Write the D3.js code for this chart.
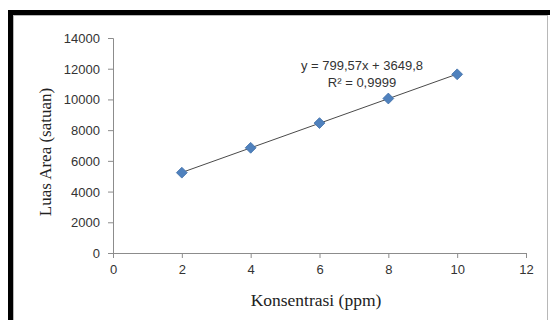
<!DOCTYPE html>
<html>
<head>
<meta charset="utf-8">
<script src="https://cdn.jsdelivr.net/npm/d3@7"></script>
<style>
  body { margin: 0; background: #fff; }
  svg { display: block; }
</style>
</head>
<body>
<div id="chart"></div>
<script>
// data
var konsentrasi = [2, 4, 6, 8, 10];
var luasArea = [5230, 6850, 8460, 10060, 11636];
var xTicks = [0, 2, 4, 6, 8, 10, 12];
var yTicks = [0, 2000, 4000, 6000, 8000, 10000, 12000, 14000];
var eqText = 'y = 799,57x + 3649,8';
var r2Text = 'R² = 0,9999';

var W = 550, H = 320;
var svg = d3.select('#chart').append('svg')
  .attr('width', W)
  .attr('height', H);

// black frame (top + left) and light inner border
svg.append('rect').attr('x', 8).attr('y', 10).attr('width', W).attr('height', 5).attr('fill', '#000');
svg.append('rect').attr('x', 8).attr('y', 10).attr('width', 5).attr('height', H).attr('fill', '#000');
svg.append('rect')
  .attr('x', 13.5).attr('y', 15.5)
  .attr('width', 534).attr('height', H)
  .attr('fill', '#fff')
  .attr('stroke', '#b8b8b8');

var x = d3.scaleLinear().domain([0, 12]).range([113, 526]);
var y = d3.scaleLinear().domain([0, 14000]).range([253, 38]);

var tickFont = '"Liberation Sans", Arial, sans-serif';

var xAxis = svg.append('g')
  .attr('transform', 'translate(0,253)')
  .call(d3.axisBottom(x).tickValues(xTicks).tickSize(5).tickPadding(7).tickFormat(d3.format('d')));
var yAxis = svg.append('g')
  .attr('transform', 'translate(113,0)')
  .call(d3.axisLeft(y).tickValues(yTicks).tickSize(5).tickPadding(8).tickFormat(d3.format('d')));

[xAxis, yAxis].forEach(function(a) {
  a.select('.domain').attr('stroke', '#8c8c8c');
  a.selectAll('.tick line').attr('stroke', '#8c8c8c');
  a.selectAll('.tick text')
    .attr('fill', '#333')
    .style('font-family', tickFont)
    .style('font-size', '13px');
});
yAxis.selectAll('.tick text').attr('dy', '0.35em');

// linear trendline, least squares over the data
var n = konsentrasi.length;
var mx = d3.mean(konsentrasi), my = d3.mean(luasArea);
var sxy = 0, sxx = 0;
konsentrasi.forEach(function(v, i) {
  sxy += (v - mx) * (luasArea[i] - my);
  sxx += (v - mx) * (v - mx);
});
var slope = sxy / sxx, icpt = my - slope * mx;
var x0 = d3.min(konsentrasi), x1 = d3.max(konsentrasi);

svg.append('line')
  .attr('x1', x(x0)).attr('y1', y(slope * x0 + icpt))
  .attr('x2', x(x1)).attr('y2', y(slope * x1 + icpt))
  .attr('stroke', '#4a4a4a')
  .attr('stroke-width', 1);

var diamond = d3.symbol().type(d3.symbolDiamond2).size(75);
svg.append('g').selectAll('path')
  .data(konsentrasi)
  .enter()
    .append('path')
    .attr('d', diamond)
    .attr('transform', function(d, i) { return 'translate(' + x(d) + ',' + y(luasArea[i]) + ')'; })
    .attr('fill', '#4f81bd')
    .attr('stroke', '#3f6fa8')
    .attr('stroke-width', 0.8);

// equation labels
svg.append('text')
  .attr('x', 362).attr('y', 70)
  .attr('text-anchor', 'middle')
  .attr('fill', '#333')
  .style('font-family', tickFont)
  .style('font-size', '13px')
  .text(eqText);
svg.append('text')
  .attr('x', 362).attr('y', 87)
  .attr('text-anchor', 'middle')
  .attr('fill', '#333')
  .style('font-family', tickFont)
  .style('font-size', '13px')
  .text(r2Text);

// axis titles
svg.append('text')
  .attr('x', 316).attr('y', 306)
  .attr('text-anchor', 'middle')
  .attr('fill', '#222')
  .style('font-family', '"Liberation Serif", "Times New Roman", serif')
  .style('font-size', '17.5px')
  .text('Konsentrasi (ppm)');
svg.append('text')
  .attr('transform', 'translate(51,152) rotate(-90)')
  .attr('text-anchor', 'middle')
  .attr('fill', '#222')
  .style('font-family', '"Liberation Serif", "Times New Roman", serif')
  .style('font-size', '17px')
  .text('Luas Area (satuan)');
</script>
</body>
</html>
